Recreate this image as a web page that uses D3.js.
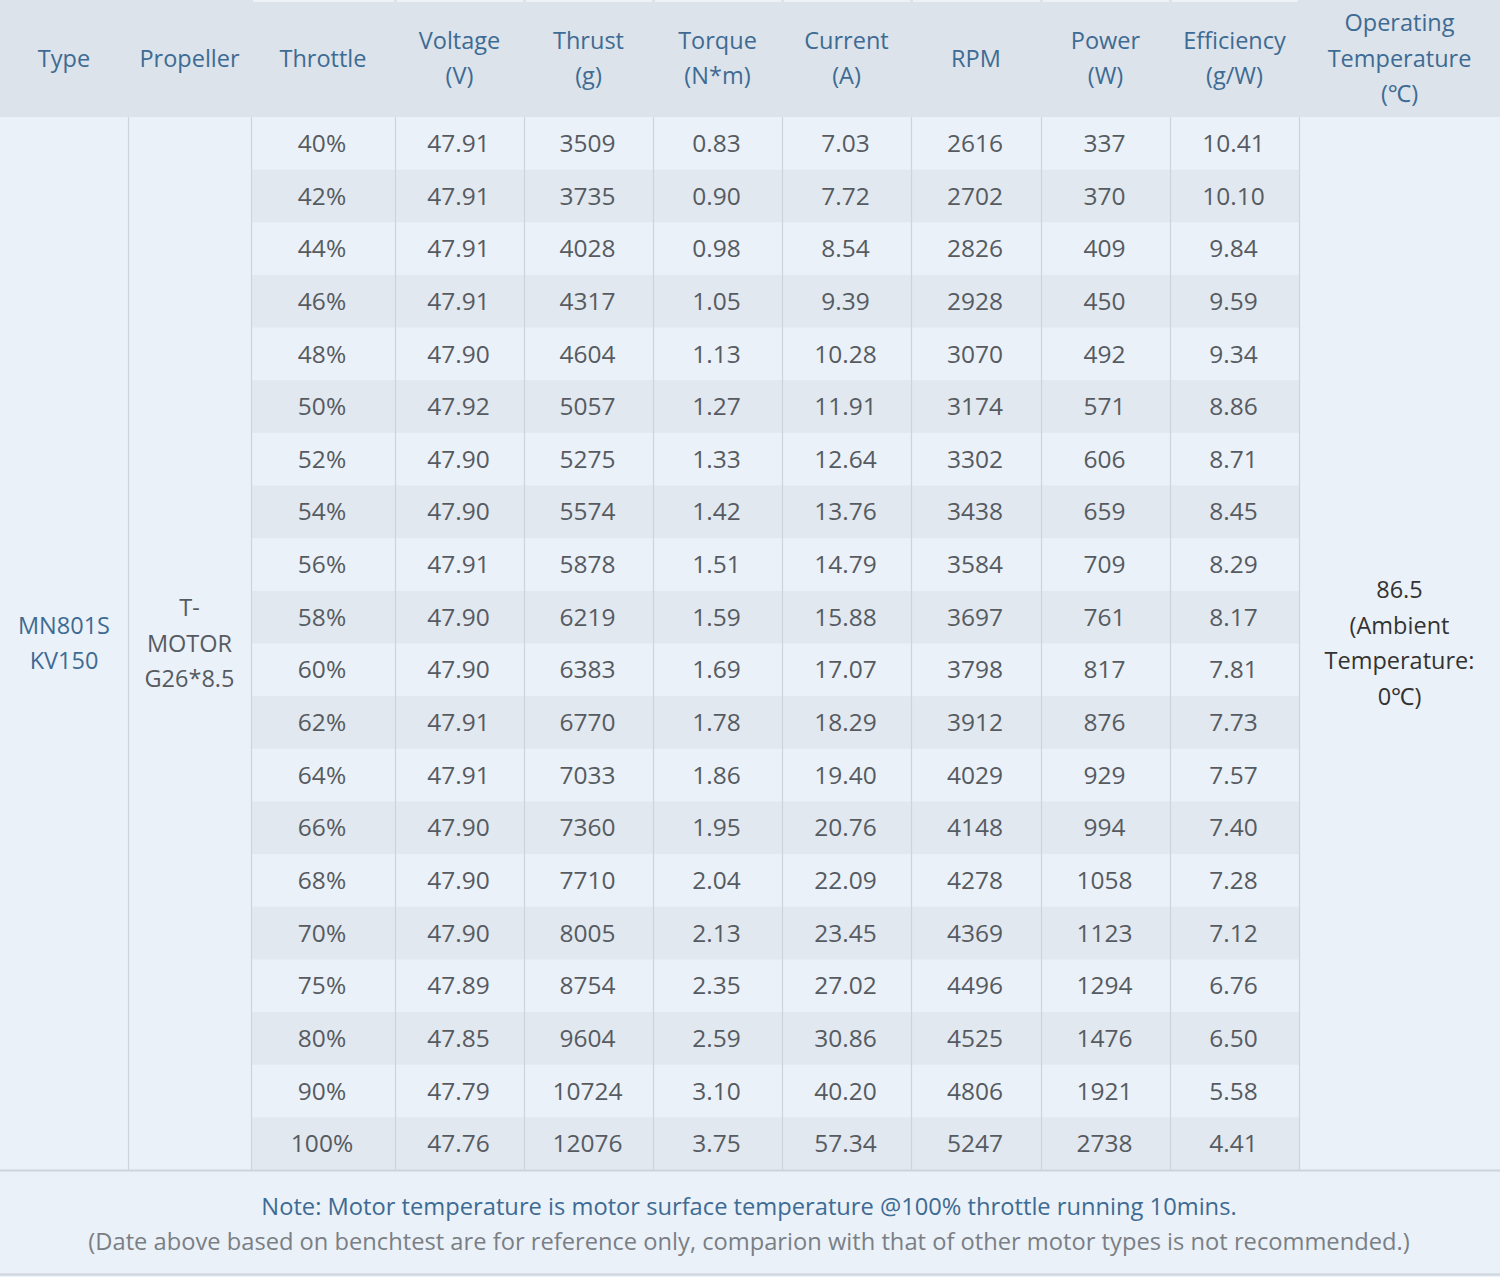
<!DOCTYPE html>
<html lang="en">
<head>
  <meta charset="UTF-8">
  <title>MN801S KV150 test data</title>
  <script src="https://d3js.org/d3.v7.min.js"></script>
  <style>
    html, body { margin: 0; padding: 0; background: #ebf1f8; }
    svg { display: block; font-family: 'Open Sans', 'Noto Sans', sans-serif; }
  </style>
</head>
<body>
  <svg width="1500" height="1277"></svg>
  <script>
    // data
    const throttle   = ["40%", "42%", "44%", "46%", "48%", "50%", "52%", "54%", "56%", "58%",
                        "60%", "62%", "64%", "66%", "68%", "70%", "75%", "80%", "90%", "100%"];
    const voltage    = [47.91, 47.91, 47.91, 47.91, 47.90, 47.92, 47.90, 47.90, 47.91, 47.90,
                        47.90, 47.91, 47.91, 47.90, 47.90, 47.90, 47.89, 47.85, 47.79, 47.76];
    const thrust     = [3509, 3735, 4028, 4317, 4604, 5057, 5275, 5574, 5878, 6219,
                        6383, 6770, 7033, 7360, 7710, 8005, 8754, 9604, 10724, 12076];
    const torque     = [0.83, 0.90, 0.98, 1.05, 1.13, 1.27, 1.33, 1.42, 1.51, 1.59,
                        1.69, 1.78, 1.86, 1.95, 2.04, 2.13, 2.35, 2.59, 3.10, 3.75];
    const current    = [7.03, 7.72, 8.54, 9.39, 10.28, 11.91, 12.64, 13.76, 14.79, 15.88,
                        17.07, 18.29, 19.40, 20.76, 22.09, 23.45, 27.02, 30.86, 40.20, 57.34];
    const rpm        = [2616, 2702, 2826, 2928, 3070, 3174, 3302, 3438, 3584, 3697,
                        3798, 3912, 4029, 4148, 4278, 4369, 4496, 4525, 4806, 5247];
    const power      = [337, 370, 409, 450, 492, 571, 606, 659, 709, 761,
                        817, 876, 929, 994, 1058, 1123, 1294, 1476, 1921, 2738];
    const efficiency = [10.41, 10.10, 9.84, 9.59, 9.34, 8.86, 8.71, 8.45, 8.29, 8.17,
                        7.81, 7.73, 7.57, 7.40, 7.28, 7.12, 6.76, 6.50, 5.58, 4.41];

    const headers = [
      ["Type"], ["Propeller"], ["Throttle"], ["Voltage", "(V)"], ["Thrust", "(g)"],
      ["Torque", "(N*m)"], ["Current", "(A)"], ["RPM"], ["Power", "(W)"],
      ["Efficiency", "(g/W)"], ["Operating", "Temperature", "(℃)"]
    ];
    const motorType = ["MN801S", "KV150"];
    const propeller = ["T-", "MOTOR", "G26*8.5"];
    const temperature = ["86.5", "(Ambient", "Temperature:", "0℃)"];
    const notes = [
      "Note: Motor temperature is motor surface temperature @100% throttle running 10mins.",
      "(Date above based on benchtest are for reference only, comparion with that of other motor types is not recommended.)"
    ];

    const fmt2 = d3.format(".2f");
    const columns = [
      { values: throttle,   f: d => d },
      { values: voltage,    f: fmt2 },
      { values: thrust,     f: d => String(d) },
      { values: torque,     f: fmt2 },
      { values: current,    f: fmt2 },
      { values: rpm,        f: d => String(d) },
      { values: power,      f: d => String(d) },
      { values: efficiency, f: fmt2 }
    ];

    // layout
    const W = 1500, H = 1277;
    const headTop = 0, headBottom = 117, bodyBottom = 1170;
    const colWidths = [128, 123, 144, 129, 129, 129, 129, 130, 129, 129, 201];
    const colEdges = [0];
    colWidths.forEach(w => colEdges.push(colEdges[colEdges.length - 1] + w));

    const col = d3.scaleOrdinal().domain(d3.range(11)).range(colEdges.slice(0, 11));
    const colW = i => colWidths[i];
    const colMid = i => col(i) + colW(i) / 2;

    const y = d3.scaleBand().domain(throttle).range([headBottom, bodyBottom]);
    const bodyMid = (headBottom + bodyBottom) / 2;
    const lineH = 35.5;

    const headBg = "#dce3ea", bodyBg = "#ebf1f8", stripeBg = "#e2e8ef";
    const lineColor = "#cdd4dc";
    const blue = "#3e6b93", gray = "#565b61", dark = "#333";

    const svg = d3.select("svg");

    svg.append("rect").attr("width", W).attr("height", H).attr("fill", bodyBg);

    // header band
    svg.append("rect")
      .attr("x", 0).attr("y", headTop)
      .attr("width", W).attr("height", headBottom - headTop)
      .attr("fill", headBg);

    // thin light strip along the top (edge of a cut-off row)
    svg.selectAll("rect.topstrip")
      .data(d3.range(2, 10))
      .join("rect")
      .attr("class", "topstrip")
      .attr("x", i => col(i) + 2)
      .attr("y", 0)
      .attr("width", i => colW(i) - 3)
      .attr("height", 2)
      .attr("fill", "#eef2f6");

    // striped rows in the numeric columns
    svg.selectAll("rect.stripe")
      .data(throttle.filter((d, i) => i % 2 === 1))
      .join("rect")
      .attr("class", "stripe")
      .attr("x", col(2))
      .attr("y", d => y(d))
      .attr("width", col(10) - col(2))
      .attr("height", y.bandwidth())
      .attr("fill", stripeBg);

    // vertical grid lines in the body
    svg.selectAll("line.vline")
      .data(d3.range(1, 11))
      .join("line")
      .attr("class", "vline")
      .attr("x1", i => col(i) + 0.5).attr("x2", i => col(i) + 0.5)
      .attr("y1", headBottom).attr("y2", bodyBottom)
      .attr("stroke", lineColor).attr("stroke-width", 1.2);

    svg.append("line")
      .attr("x1", 0).attr("x2", W)
      .attr("y1", bodyBottom + 0.5).attr("y2", bodyBottom + 0.5)
      .attr("stroke", lineColor).attr("stroke-width", 2);

    svg.append("line")
      .attr("x1", 0).attr("x2", W)
      .attr("y1", H - 2.5).attr("y2", H - 2.5)
      .attr("stroke", lineColor).attr("stroke-width", 2);

    // header text
    const hMid = (headTop + headBottom) / 2;
    headers.forEach((lines, i) => {
      const t = svg.append("text")
        .attr("text-anchor", "middle")
        .attr("font-size", 23.5)
        .attr("fill", blue);
      lines.forEach((s, k) => {
        t.append("tspan")
          .attr("x", colMid(i))
          .attr("y", hMid + (k - (lines.length - 1) / 2) * lineH)
          .attr("dy", "0.35em")
          .text(s);
      });
    });

    // merged cells
    function block(i, lines, color) {
      const t = svg.append("text")
        .attr("text-anchor", "middle")
        .attr("font-size", 23.5)
        .attr("fill", color);
      lines.forEach((s, k) => {
        t.append("tspan")
          .attr("x", colMid(i))
          .attr("y", bodyMid + (k - (lines.length - 1) / 2) * lineH)
          .attr("dy", "0.35em")
          .text(s);
      });
    }
    block(0, motorType, blue);
    block(1, propeller, gray);
    block(10, temperature, dark);

    // numeric cells
    columns.forEach((c, ci) => {
      svg.selectAll("text.c" + ci)
        .data(c.values)
        .join("text")
        .attr("class", "c" + ci)
        .attr("x", colMid(ci + 2) - 1)
        .attr("y", (d, i) => y(throttle[i]) + y.bandwidth() / 2)
        .attr("dy", "0.35em")
        .attr("text-anchor", "middle")
        .attr("font-size", 24.5)
        .attr("fill", gray)
        .text(c.f);
    });

    // footer notes
    svg.selectAll("text.note")
      .data(notes)
      .join("text")
      .attr("class", "note")
      .attr("x", W / 2 - 1)
      .attr("y", (d, i) => 1207 + i * 35)
      .attr("dy", "0.35em")
      .attr("text-anchor", "middle")
      .attr("font-size", 23.7)
      .attr("fill", (d, i) => i === 0 ? blue : "#7a7f85")
      .text(d => d);
  </script>
</body>
</html>
